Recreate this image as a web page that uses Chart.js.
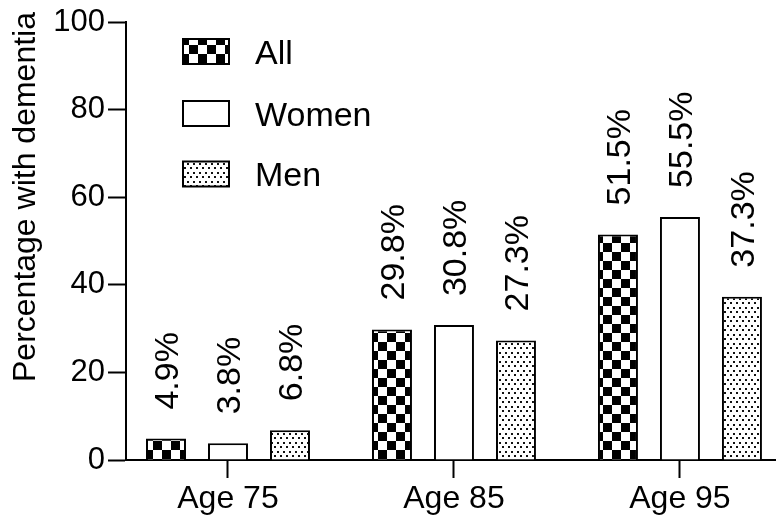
<!DOCTYPE html>
<html>
<head>
<meta charset="utf-8">
<script src="https://cdn.jsdelivr.net/npm/chart.js@4/dist/chart.umd.min.js"></script>
<style>
  html, body { margin: 0; padding: 0; background: #fff; }
  #wrap { width: 776px; height: 517px; }
</style>
</head>
<body>
<div id="wrap"><canvas id="c" width="776" height="517"></canvas></div>
<script>
const categories = ['Age 75', 'Age 85', 'Age 95'];
const seriesNames = ['All', 'Women', 'Men'];
const allValues = [4.9, 29.8, 51.5];
const womenValues = [3.8, 30.8, 55.5];
const menValues = [6.8, 27.3, 37.3];
const yTicks = [0, 20, 40, 60, 80, 100];
const yTitle = 'Percentage with dementia';

const FONT = "'Liberation Sans', Arial, sans-serif";

function checkerPattern() {
  const s = 9;
  const c = document.createElement('canvas');
  c.width = s * 2; c.height = s * 2;
  const g = c.getContext('2d');
  g.fillStyle = '#fff'; g.fillRect(0, 0, s * 2, s * 2);
  g.fillStyle = '#000';
  g.fillRect(0, 0, s, s);
  g.fillRect(s, s, s, s);
  return g.createPattern(c, 'repeat');
}
function dotPattern() {
  const c = document.createElement('canvas');
  c.width = 6; c.height = 9;
  const g = c.getContext('2d');
  g.fillStyle = '#fff'; g.fillRect(0, 0, 6, 9);
  g.fillStyle = '#111';
  g.fillRect(1, 1, 2, 2);
  g.fillRect(4, 5, 2, 2);
  return g.createPattern(c, 'repeat');
}
const ctx0 = document.getElementById('c').getContext('2d');
const fills = [checkerPattern(), '#ffffff', dotPattern()];
const seriesValues = [allValues, womenValues, menValues];

const datasets = seriesNames.map((name, si) => ({
  label: name,
  data: seriesValues[si].map((v, i) => ({ x: i, y: v })),
  backgroundColor: fills[si],
  borderColor: '#000',
  borderWidth: 2,
  borderSkipped: 'start',
  categoryPercentage: 0.823,
  barPercentage: 0.645
}));

const overlay = {
  id: 'overlay',
  afterDatasetsDraw(chart) {
    const ctx = chart.ctx;
    ctx.save();
    ctx.fillStyle = '#000';
    // value labels
    ctx.font = '34px ' + FONT;
    chart.data.datasets.forEach((ds, di) => {
      const meta = chart.getDatasetMeta(di);
      meta.data.forEach((bar, i) => {
        const v = ds.data[i].y;
        ctx.save();
        ctx.translate(bar.x + 12, bar.y - 29);
        ctx.rotate(-Math.PI / 2);
        ctx.textAlign = 'left';
        ctx.textBaseline = 'alphabetic';
        ctx.fillText(v.toFixed(1) + '%', 0, 0);
        ctx.restore();
      });
    });
    // legend
    const lx = 182, lw = 48, lh = 27;
    const centers = [51.5, 113.5, 174];
    chart.data.datasets.forEach((ds, di) => {
      const cy = centers[di];
      ctx.fillStyle = ds.backgroundColor;
      ctx.fillRect(lx, cy - lh / 2, lw, lh);
      ctx.strokeStyle = '#000';
      ctx.lineWidth = 2;
      ctx.strokeRect(lx + 1, cy - lh / 2 + 1, lw - 2, lh - 2);
      ctx.fillStyle = '#000';
      ctx.font = '34px ' + FONT;
      ctx.textAlign = 'left';
      ctx.textBaseline = 'alphabetic';
      ctx.fillText(ds.label, 255, cy + 12);
    });
    // y title
    ctx.save();
    ctx.translate(35, 197);
    ctx.rotate(-Math.PI / 2);
    ctx.font = '32px ' + FONT;
    ctx.textAlign = 'center';
    ctx.textBaseline = 'alphabetic';
    ctx.fillText(yTitle, 0, 0);
    ctx.restore();
    ctx.restore();
  }
};

new Chart(ctx0, {
  type: 'bar',
  data: { datasets },
  options: {
    responsive: false,
    devicePixelRatio: 1,
    animation: false,
    layout: { padding: { top: 22, right: 0, left: 0, bottom: 0 } },
    plugins: { legend: { display: false }, tooltip: { enabled: false } },
    scales: {
      x: {
        type: 'linear',
        min: -0.4513,
        max: 2.425,
        offset: false,
        afterBuildTicks: (s) => { s.ticks = categories.map((c, i) => ({ value: i })); },
        afterFit: (s) => { s.height = 57; },
        grid: { display: true, offset: false, drawOnChartArea: false, drawTicks: true, tickLength: 18, tickWidth: 2, tickColor: '#000' },
        border: { display: true, color: '#000', width: 2 },
        ticks: {
          color: '#000',
          font: { family: FONT, size: 32 },
          padding: 2,
          maxRotation: 0,
          autoSkip: false,
          callback: (v) => categories[v] !== undefined ? categories[v] : ''
        }
      },
      y: {
        min: 0,
        max: 100,
        afterBuildTicks: (s) => { s.ticks = yTicks.map(v => ({ value: v })); },
        afterFit: (s) => { s.width = 126; },
        grid: { display: true, drawOnChartArea: false, drawTicks: true, tickLength: 18, tickWidth: 2, tickColor: '#000' },
        border: { display: true, color: '#000', width: 2 },
        ticks: {
          color: '#000',
          font: { family: FONT, size: 31 },
          padding: 3
        }
      }
    }
  },
  plugins: [overlay]
});
</script>
</body>
</html>
